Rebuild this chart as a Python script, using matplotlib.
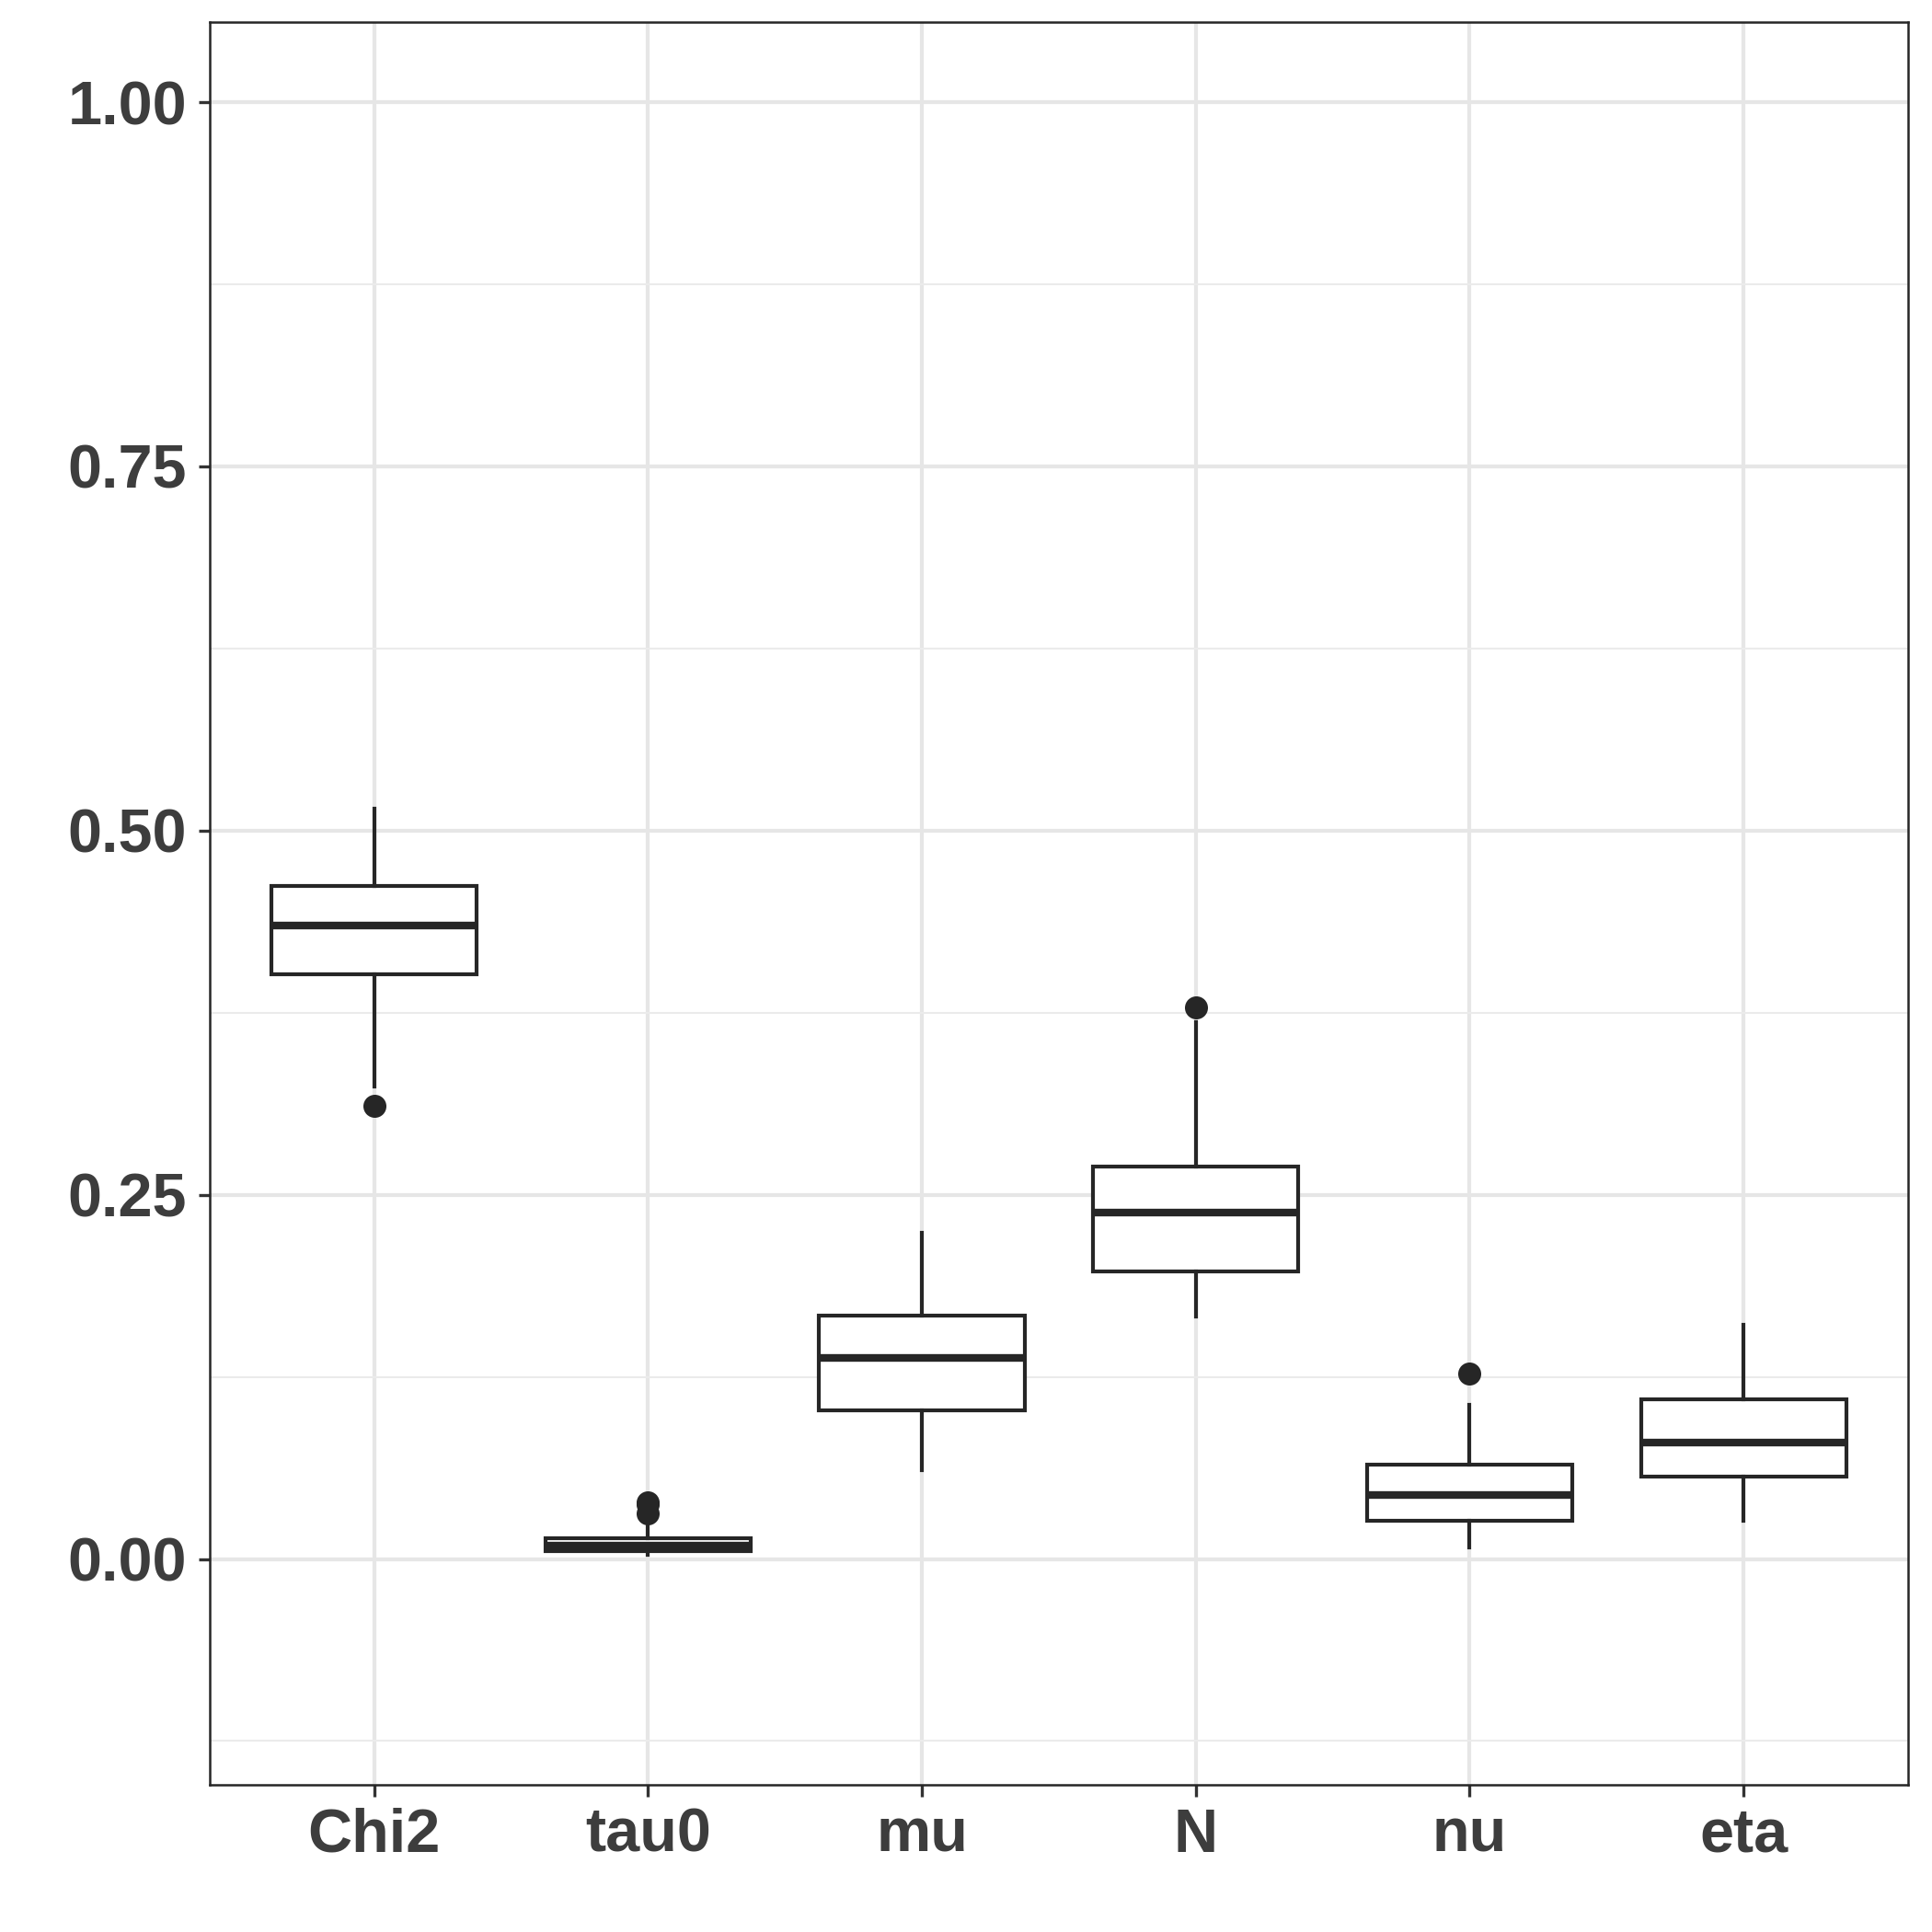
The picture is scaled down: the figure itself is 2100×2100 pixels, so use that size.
import matplotlib.pyplot as plt
import numpy as np

# Box summaries (ggplot style boxplot)
params = ["Chi2", "tau0", "mu", "N", "nu", "eta"]
whislo = [0.324, 0.003, 0.061, 0.1666, 0.0082, 0.0265]
q1 = [0.4013, 0.0057, 0.102, 0.1975, 0.0263, 0.0568]
med = [0.4347, 0.0090, 0.138, 0.2379, 0.0442, 0.080]
q3 = [0.4618, 0.0140, 0.167, 0.2694, 0.065, 0.1098]
whishi = [0.5148, 0.0233, 0.224, 0.3685, 0.106, 0.1609]
outliers = [[0.311], [0.039, 0.0375, 0.0315], [], [0.3785], [0.1274], []]

y_ticks = [0.00, 0.25, 0.50, 0.75, 1.00]
y_minor = [-0.125, 0.125, 0.375, 0.625, 0.875]

plt.rcParams['font.family'] = ['Liberation Sans', 'DejaVu Sans']

fig = plt.figure(figsize=(7, 7), dpi=300)
ax = fig.add_axes([0.1086, 0.0762, 0.9875 - 0.1086, 0.9886 - 0.0762])

stats = []
for i, name in enumerate(params):
    stats.append({"label": name, "whislo": whislo[i], "q1": q1[i], "med": med[i],
                  "q3": q3[i], "whishi": whishi[i], "fliers": outliers[i]})

dark = '#262626'
positions = np.arange(1, len(params) + 1)
ax.bxp(stats, positions=positions, widths=0.75, showcaps=False, patch_artist=True,
       boxprops=dict(facecolor='white', edgecolor=dark, linewidth=1.0),
       whiskerprops=dict(color=dark, linewidth=1.0),
       medianprops=dict(color=dark, linewidth=2.0, solid_capstyle='butt'),
       flierprops=dict(marker='o', markerfacecolor=dark, markeredgecolor=dark, markersize=5.0),
       zorder=3)

ax.set_xlim(0.4, 6.6)
ax.set_ylim(-0.155, 1.055)

ax.set_xticks(positions)
ax.set_xticklabels(params)
ax.set_yticks(y_ticks)
ax.set_yticklabels([f"{v:.2f}" for v in y_ticks])
ax.set_yticks(y_minor, minor=True)

# grid
ax.set_axisbelow(True)
ax.grid(True, which='major', color='#e6e6e6', linewidth=1.0)
ax.grid(True, which='minor', axis='y', color='#ebebeb', linewidth=0.5)

ax.tick_params(axis='both', which='major', length=3, width=0.8, color='#333333',
               labelsize=16, labelcolor='#3d3d3d', pad=3)
ax.tick_params(axis='y', which='minor', length=0)
for lab in ax.get_xticklabels() + ax.get_yticklabels():
    lab.set_fontweight('bold')

for s in ax.spines.values():
    s.set_color('#262626')
    s.set_linewidth(0.6)

fig.savefig("out.png", dpi=300, facecolor='white')
